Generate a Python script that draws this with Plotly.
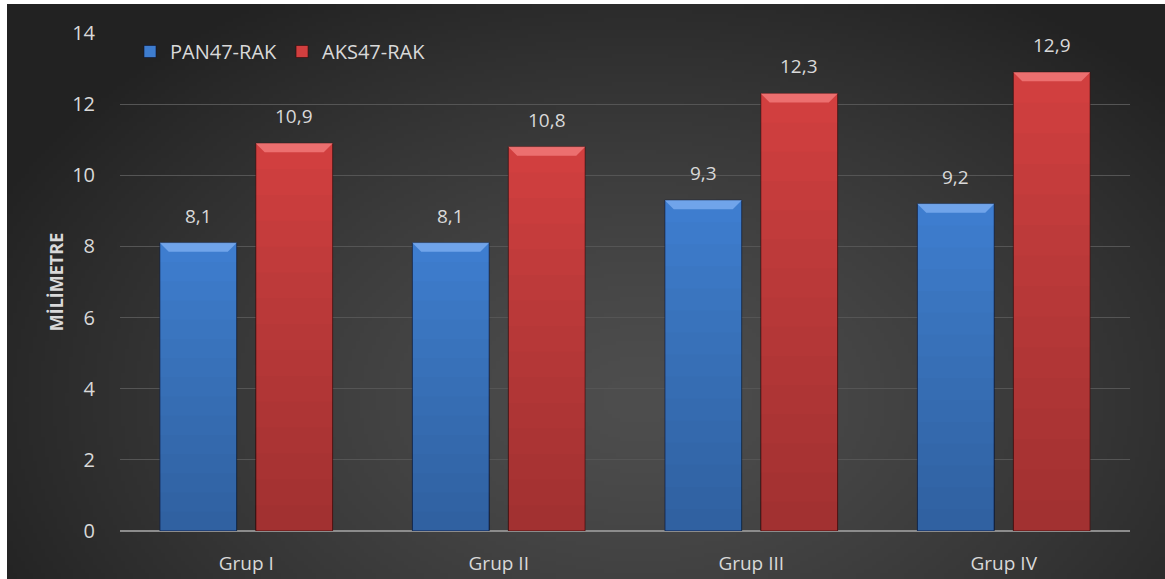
import base64, struct, zlib
import numpy as np
import plotly.graph_objects as go

categories = ["Grup I", "Grup II", "Grup III", "Grup IV"]
pan_values = [8.1, 8.1, 9.3, 9.2]
aks_values = [10.9, 10.8, 12.3, 12.9]
series_names = ["PAN47-RAK", "AKS47-RAK"]
y_ticks = [0, 2, 4, 6, 8, 10, 12, 14]

W, H = 1165, 579
L, R, T, B = 120, 35, 33, 48
plot_w = W - L - R
plot_h = H - T - B

# ---- background radial gradient as PNG data URI ----
def make_png(arr):
    h, w, _ = arr.shape
    raw = b"".join(b"\x00" + arr[i].tobytes() for i in range(h))
    def chunk(t, d):
        c = struct.pack(">I", len(d)) + t + d
        return c + struct.pack(">I", zlib.crc32(t + d) & 0xffffffff)
    png = b"\x89PNG\r\n\x1a\n" + chunk(b"IHDR", struct.pack(">IIBBBBB", w, h, 8, 2, 0, 0, 0))
    png += chunk(b"IDAT", zlib.compress(raw, 9)) + chunk(b"IEND", b"")
    return "data:image/png;base64," + base64.b64encode(png).decode()

bg_x0, bg_y0 = 7, 4
gw, gh = 290, 144
xs = np.linspace(bg_x0, W, gw)
ys = np.linspace(bg_y0, H, gh)
X, Y = np.meshgrid(xs, ys)
r = np.sqrt(((X - 640) / 720.0) ** 2 + ((Y - 400) / 480.0) ** 2)
r = np.clip(r, 0, 1)
inner, outer = 78, 34
v = inner + (outer - inner) * r ** 1.3
img = np.stack([v, v, v], axis=-1).astype(np.uint8)
bg_uri = make_png(img)

def px_to_paper_x(px):
    return (px - L) / plot_w

def px_to_paper_y(py):
    return (H - B - py) / plot_h

x_idx = list(range(len(categories)))
bar_w = 0.305
offset = 0.19

blue = "#3E7DCF"
red = "#D13F3F"
blue_top = "#7DAEF0"
red_top = "#F27C7C"

fig = go.Figure()
fig.add_trace(go.Bar(
    x=x_idx, y=pan_values, name=series_names[0],
    marker=dict(color=blue, line=dict(color="rgba(10,20,50,0.6)", width=1)),
))
fig.add_trace(go.Bar(
    x=x_idx, y=aks_values, name=series_names[1],
    marker=dict(color=red, line=dict(color="rgba(50,10,10,0.6)", width=1)),
))

shapes = []
annotations = []
bevel_h = 9 / (plot_h / 14)
bevel_d = 9 / (plot_w / 4)
n_fade = 14
for vals, sign, topc in [(pan_values, -1, blue_top), (aks_values, 1, red_top)]:
    for i, v in enumerate(vals):
        cx = i + sign * offset
        x0, x1 = cx - bar_w / 2, cx + bar_w / 2
        # gradual darkening toward the bottom
        for j in range(n_fade):
            shapes.append(dict(type="rect", xref="x", yref="y", x0=x0, x1=x1,
                               y0=0, y1=v * (1 - (j + 1) / (n_fade + 1)),
                               fillcolor="rgba(0,0,0,0.014)",
                               line=dict(width=0), layer="above"))
        path = (f"M {x0},{v} L {x1},{v} L {x1 - bevel_d},{v - bevel_h} "
                f"L {x0 + bevel_d},{v - bevel_h} Z")
        shapes.append(dict(type="path", path=path, xref="x", yref="y",
                           fillcolor=topc, line=dict(width=0), opacity=0.8,
                           layer="above"))
        annotations.append(dict(x=cx, y=v, xref="x", yref="y",
                                text=f"{v:.1f}".replace(".", ","),
                                showarrow=False, yshift=27,
                                font=dict(size=19, color="#D9D9D9",
                                          family="Open Sans")))

fig.update_layout(
    width=W, height=H,
    margin=dict(l=L, r=R, t=T, b=B, autoexpand=False),
    paper_bgcolor="white",
    plot_bgcolor="rgba(0,0,0,0)",
    barmode="group", bargap=0.24, bargroupgap=0.2,
    separators=",.",
    font=dict(family="Open Sans", color="#D9D9D9", size=19),
    images=[dict(source=bg_uri, xref="paper", yref="paper",
                 x=px_to_paper_x(bg_x0), y=px_to_paper_y(bg_y0),
                 sizex=px_to_paper_x(W) - px_to_paper_x(bg_x0),
                 sizey=px_to_paper_y(bg_y0) - px_to_paper_y(H),
                 xanchor="left", yanchor="top", sizing="stretch",
                 layer="below")],
    shapes=shapes,
    annotations=annotations,
    showlegend=True,
    legend=dict(orientation="h", x=px_to_paper_x(130), y=px_to_paper_y(32),
                xanchor="left", yanchor="top", bgcolor="rgba(0,0,0,0)",
                font=dict(size=20, color="#D9D9D9", family="Open Sans"),
                itemwidth=30, tracegroupgap=0),
    xaxis=dict(tickmode="array", tickvals=x_idx, ticktext=categories,
               range=[-0.5, len(categories) - 0.5],
               showgrid=False, zeroline=False,
               showline=False, automargin=False,
               ticks="outside", ticklen=15, tickcolor="rgba(0,0,0,0)",
               tickfont=dict(size=19, color="#D9D9D9", family="Open Sans")),
    yaxis=dict(range=[0, 14], tickvals=y_ticks, automargin=False,
               showgrid=True, gridcolor="#555555", gridwidth=1,
               zeroline=True, zerolinecolor="#8C8C8C", zerolinewidth=2,
               ticks="outside", ticklen=20, tickcolor="rgba(0,0,0,0)",
               tickfont=dict(size=20, color="#D9D9D9", family="Open Sans")),
)
fig.update_yaxes(title=dict(text="<b>MİLİMETRE</b>", standoff=3,
                            font=dict(size=18, color="#D9D9D9", family="Open Sans")))

fig.write_html("out.html", config={"displayModeBar": False},
               post_script="document.body.style.margin='0';document.body.style.overflow='hidden';")
